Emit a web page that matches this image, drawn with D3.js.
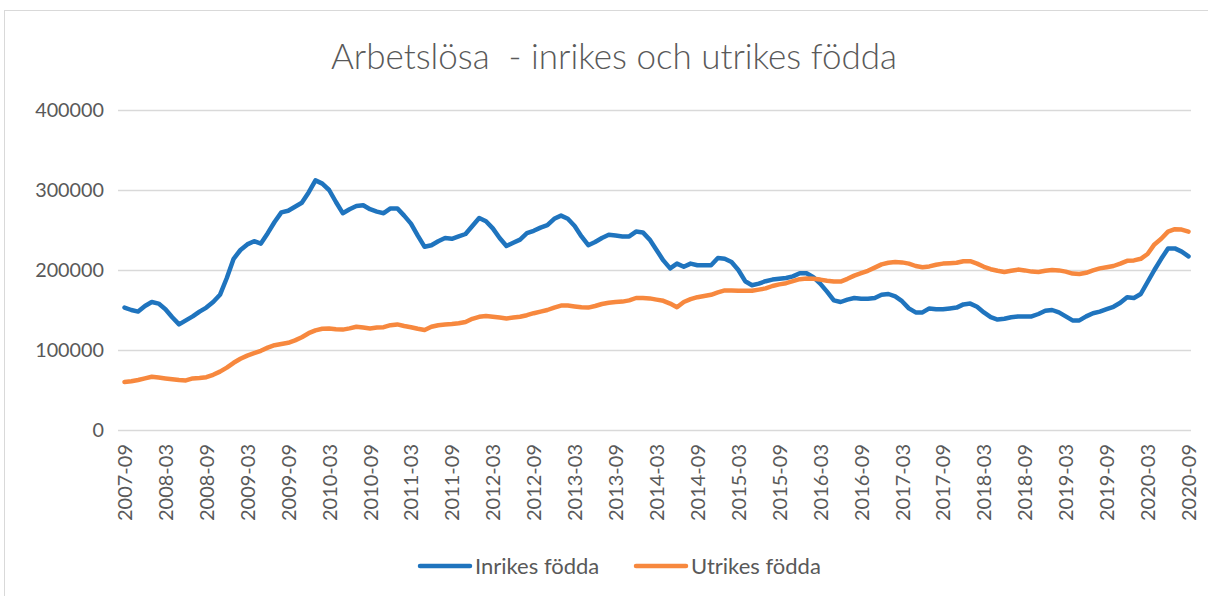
<!DOCTYPE html>
<html>
<head>
<meta charset="utf-8">
<script src="https://cdn.jsdelivr.net/npm/d3@7"></script>
<style>
  body { margin: 0; background: #fff; }
  svg text { font-family: Lato, "Open Sans", sans-serif; fill: #595959; }
</style>
</head>
<body>
<div id="chart"></div>
<script>
// serie-namn
const seriesNames = ["Inrikes födda", "Utrikes födda"];

// arbetslösa inrikes födda, månadsvis 2007-09 .. 2020-09
const inrikes = [
  153000, 150000, 148000, 155000, 160000, 158000, 151000, 141000, 132000, 137000,
  142000, 148000, 153000, 160000, 169000, 190000, 214000, 225000, 232000, 236000,
  233000, 246000, 260000, 272000, 274000, 279000, 284000, 297000, 312000, 308000,
  300000, 285000, 271000, 276000, 280000, 281000, 276000, 273000, 271000, 277000,
  277000, 268000, 258000, 243000, 229000, 231000, 236000, 240000, 239000, 242000,
  245000, 255000, 265000, 261000, 252000, 240000, 230000, 234000, 238000, 246000,
  249000, 253000, 256000, 264000, 268000, 264000, 255000, 242000, 231000, 235000,
  240000, 244000, 243000, 242000, 242000, 248000, 247000, 238000, 225000, 212000,
  202000, 208000, 204000, 208000, 206000, 206000, 206000, 215000, 214000, 210000,
  200000, 186000, 181000, 183000, 186000, 188000, 189000, 190000, 192000, 196000,
  196000, 191000, 183000, 173000, 162000, 160000, 163000, 165000, 164000, 164000,
  165000, 169000, 170000, 167000, 161000, 152000, 147000, 147000, 152000, 151000,
  151000, 152000, 153000, 157000, 158000, 154000, 147000, 141000, 138000, 139000,
  141000, 142000, 142000, 142000, 145000, 149000, 150000, 147000, 142000, 137000,
  137000, 142000, 146000, 148000, 151000, 154000, 159000, 166000, 165000, 170000,
  185000, 200000, 214000, 227000, 227000, 223000, 217000
];

// arbetslösa utrikes födda
const utrikes = [
  60000, 61000, 62500, 64500, 66500, 65500, 64500, 63500, 62500, 62000,
  64500, 65000, 66000, 69000, 73000, 78000, 84000, 89000, 93000, 96000,
  99000, 103000, 106000, 107500, 109000, 112000, 116000, 121000, 124500, 126500,
  127000, 126000, 125500, 127000, 129000, 128000, 127000, 128000, 128500, 131000,
  132000, 130000, 128500, 126500, 125000, 129000, 131000, 132000, 132500, 133500,
  135000, 139000, 141500, 142500, 141500, 140500, 139500, 140500, 141500, 143500,
  146000, 148000, 150000, 153000, 155500, 155500, 154500, 153500, 153000, 155000,
  157500, 159000, 160000, 160500, 162000, 165000, 165000, 164500, 163000, 161500,
  158000, 153500, 160000, 163500, 166000, 167500, 169000, 172000, 174500, 174500,
  174000, 174000, 174000, 175500, 177000, 180000, 182000, 183500, 186000, 188500,
  189500, 189000, 188000, 186500, 185500, 185500, 189000, 193000, 196000, 199000,
  203000, 207000, 209000, 210000, 209500, 208000, 205000, 203500, 204500, 206500,
  208000, 208500, 209000, 211000, 211000, 208000, 204000, 201000, 199000, 197500,
  199000, 200500, 199500, 198000, 197500, 199000, 200000, 199500, 198000, 195500,
  195000, 196500, 199500, 202000, 203500, 205000, 208000, 211500, 212000, 214000,
  220000, 232000, 239000, 248000, 251000, 250500, 248000
];

const tickLabels = [
  "2007-09", "2008-03", "2008-09", "2009-03", "2009-09", "2010-03", "2010-09",
  "2011-03", "2011-09", "2012-03", "2012-09", "2013-03", "2013-09", "2014-03",
  "2014-09", "2015-03", "2015-09", "2016-03", "2016-09", "2017-03", "2017-09",
  "2018-03", "2018-09", "2019-03", "2019-09", "2020-03", "2020-09"
];
const yTicks = [0, 100000, 200000, 300000, 400000];

const colors = ["#1f74be", "#f7883e"];

const width = 1208, height = 596;

// månader 2007-09 .. 2020-09
const fmt = d3.timeFormat("%Y-%m");
const months = d3.timeMonth.range(new Date(2007, 8, 1), new Date(2020, 9, 1)).map(fmt);

const svg = d3.select("#chart").append("svg")
    .attr("width", width)
    .attr("height", height);

// diagramram
svg.append("rect")
    .attr("x", 4.5).attr("y", 10.5)
    .attr("width", 1220).attr("height", 620)
    .attr("fill", "none")
    .attr("stroke", "#d9d9d9");

const x = d3.scalePoint()
    .domain(months)
    .range([124.5, 1188.5]);

const y = d3.scaleLinear()
    .domain([0, 400000])
    .range([430, 110]);

// stödlinjer
svg.append("g")
    .selectAll("line")
    .data(yTicks)
    .join("line")
    .attr("x1", 118).attr("x2", 1191)
    .attr("y1", d => Math.round(y(d)) + 0.5)
    .attr("y2", d => Math.round(y(d)) + 0.5)
    .attr("stroke", "#d9d9d9")
    .attr("stroke-width", 1.3);

// y-axel
const yAxis = svg.append("g")
    .attr("transform", "translate(104,0)")
    .call(d3.axisLeft(y).tickValues(yTicks).tickSize(0).tickPadding(0).tickFormat(d3.format("d")));
yAxis.select(".domain").remove();
yAxis.selectAll("text")
    .attr("font-size", 19.8)
    .attr("dy", "0.35em")
    .style("font-family", "Lato, sans-serif")
    .attr("fill", "#595959");

// x-axel
const xAxis = svg.append("g")
    .attr("transform", "translate(0,430)")
    .call(d3.axisBottom(x).tickValues(tickLabels).tickSize(0));
xAxis.select(".domain").remove();
xAxis.selectAll("text")
    .attr("font-size", 20)
    .attr("fill", "#595959")
    .attr("transform", "rotate(-90)")
    .attr("text-anchor", "end")
    .attr("x", -14)
    .attr("y", 0)
    .attr("dy", "0.35em");

// linjer
const line = d3.line()
    .x((d, i) => x(months[i]))
    .y(d => y(d));

[inrikes, utrikes].forEach((s, k) => {
    svg.append("path")
        .datum(s)
        .attr("fill", "none")
        .attr("stroke", colors[k])
        .attr("stroke-width", 4.5)
        .attr("stroke-linejoin", "round")
        .attr("stroke-linecap", "round")
        .attr("d", line);
});

// rubrik
svg.append("text")
    .attr("x", 614)
    .attr("y", 69)
    .attr("text-anchor", "middle")
    .attr("font-size", 35)
    .attr("font-weight", 300)
    .attr("fill", "#595959")
    .style("white-space", "pre")
    .text("Arbetslösa  - inrikes och utrikes födda");

// teckenförklaring
const legendX = [418, 634];
const legend = svg.append("g")
    .selectAll("g")
    .data(seriesNames)
    .join("g")
    .attr("transform", (d, i) => `translate(${legendX[i]},566)`);

legend.append("line")
    .attr("x1", 2).attr("x2", 52)
    .attr("stroke", (d, i) => colors[i])
    .attr("stroke-width", 4.5)
    .attr("stroke-linecap", "round");

legend.append("text")
    .attr("x", 57)
    .attr("dy", "0.35em")
    .attr("font-size", 22)
    .attr("fill", "#595959")
    .text(d => d);
</script>
</body>
</html>
